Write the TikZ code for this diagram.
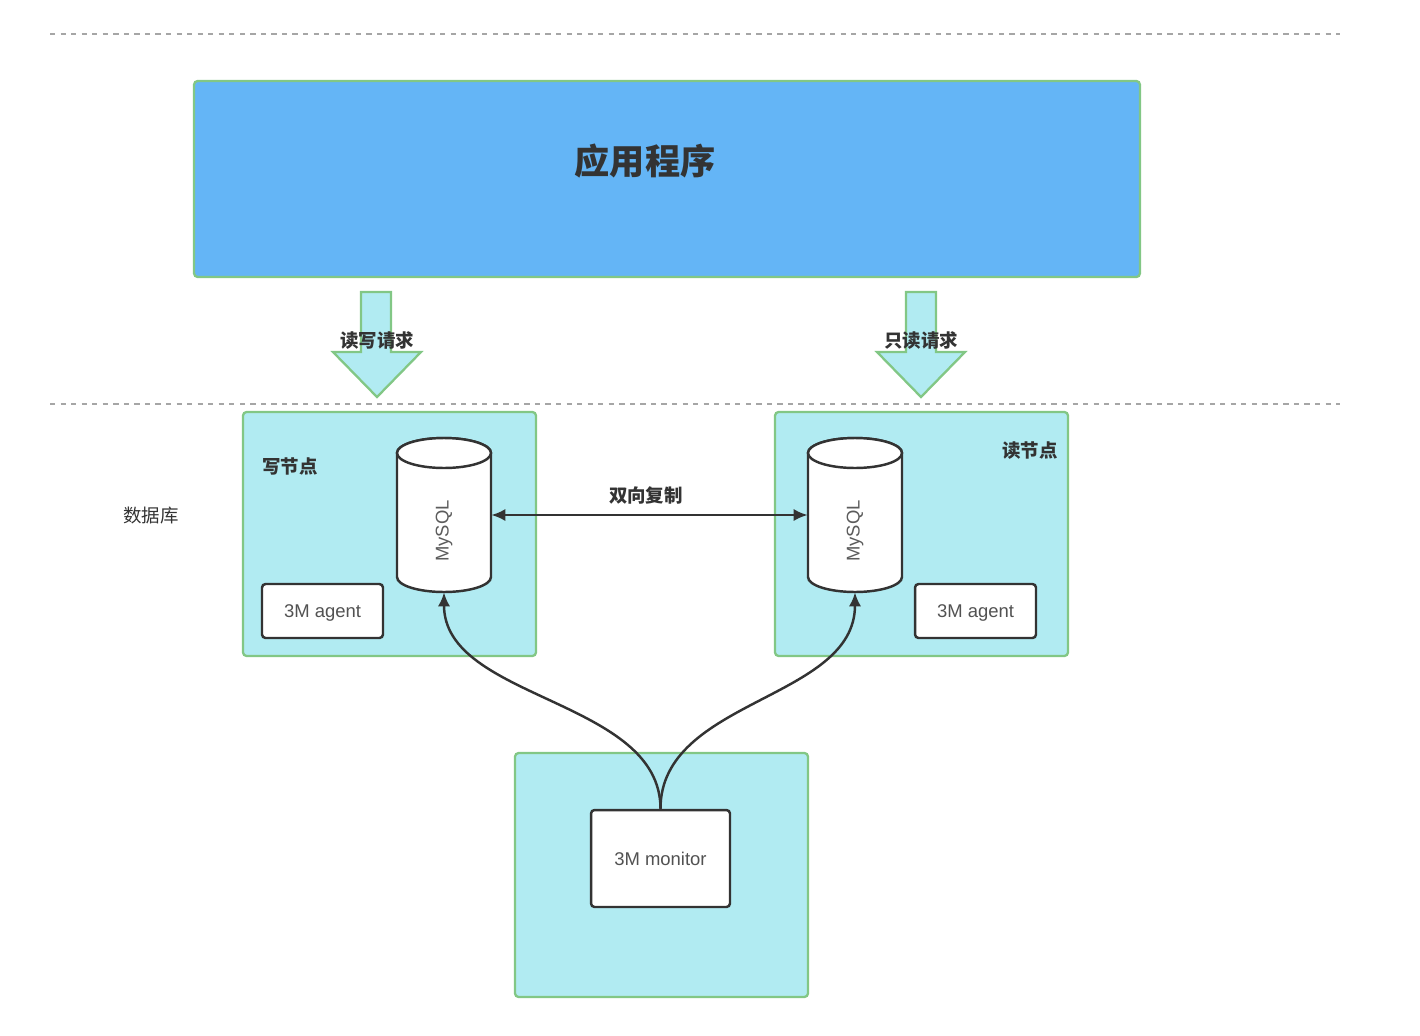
\documentclass[tikz,border=0pt]{standalone}
\usepackage{fontspec}
\setmainfont{Liberation Sans}
\newfontfamily\cjk{Noto Sans CJK SC}
\usetikzlibrary{arrows.meta}
\definecolor{appblue}{HTML}{64B5F6}
\definecolor{nodecyan}{HTML}{B1EBF2}
\definecolor{edgegreen}{HTML}{82C785}
\definecolor{ink}{HTML}{333333}
\begin{document}
\begin{tikzpicture}[x=0.02cm, y=-0.02cm,
		group/.style={draw=edgegreen, line width=1.3pt, fill=nodecyan, rounded corners=2pt, minimum width=5.86cm, minimum height=4.88cm},
		box/.style={draw=ink, line width=1.4pt, fill=white, rounded corners=2pt, font=\fontsize{10.5}{12}\selectfont, text=ink!85, text depth=0pt},
		dbline/.style={draw=ink, line width=1.4pt, fill=white},
		dbtext/.style={rotate=90, font=\fontsize{10.5}{12}\selectfont, text=ink!80},
		conn/.style={draw=ink, line width=1.4pt, -{Latex[length=8pt,width=7pt]}},
		lbl/.style={font=\cjk\bfseries\fontsize{10.5}{12}\selectfont, text=ink},
		sepline/.style={draw=gray!70, dashed, line width=0.6pt},
		bigarrow/.style={draw=edgegreen, line width=1.3pt, fill=nodecyan}]
		\useasboundingbox (0,0) rectangle (1420,1035);
		% separators
		\draw[sepline] (50,34) -- (1340,34);
		\draw[sepline] (50,404) -- (1340,404);
		% application
		\node[draw=edgegreen, line width=1.3pt, fill=appblue, rounded corners=2pt, minimum width=18.92cm, minimum height=3.92cm] (app) at (667,179) {};
		\node[font=\cjk\bfseries\fontsize{20}{24}\selectfont, text=ink] (apptext) at (645,161) {应用程序};
		% request arrows
		\draw[bigarrow] (361,292) -- (391,292) -- (391,352) -- (421,352) -- (377,397) -- (333,352) -- (361,352) -- cycle;
		\node[lbl] (rwreq) at (377,340) {读写请求};
		\draw[bigarrow] (906,292) -- (936,292) -- (936,352) -- (965,352) -- (921,397) -- (877,352) -- (906,352) -- cycle;
		\node[lbl] (roreq) at (921,340) {只读请求};
		% database nodes
		\node[font=\cjk\fontsize{10.5}{12}\selectfont, text=ink] (dblabel) at (151,516) {数据库};
		\node[group] (writer) at (389.5,534) {};
		\node[group] (reader) at (921.5,534) {};
		\node[lbl] (wlabel) at (290,466) {写节点};
		\node[lbl] (rlabel) at (1030,451) {读节点};
		\foreach \cx/\nm in {444/A, 855/B} {
			\draw[dbline] (\cx-47,453) -- (\cx-47,577) arc[start angle=180, end angle=360, x radius=0.94cm, y radius=0.3cm] -- (\cx+47,453) arc[start angle=0, end angle=180, x radius=0.94cm, y radius=0.3cm] -- cycle;
			\draw[dbline] (\cx,453) ellipse[x radius=0.94cm, y radius=0.3cm];
			\node[minimum width=1.88cm, minimum height=3.08cm, inner sep=0pt] (db\nm) at (\cx,515) {};
			\node[dbtext] (sql\nm) at (\cx,531) {MySQL};
		}
		\node[box, minimum width=2.42cm, minimum height=1.08cm] (agentA) at (322.5,611) {3M agent};
		\node[box, minimum width=2.42cm, minimum height=1.08cm] (agentB) at (975.5,611) {3M agent};
		\draw[conn, {Latex[length=8pt,width=7pt]}-{Latex[length=8pt,width=7pt]}] (dbA.east) -- (dbB.west) node[lbl, midway, above=2pt, xshift=-2pt] (repl) {双向复制};
		% monitor
		\node[group] (monbox) at (661.5,875) {};
		\node[box, minimum width=2.78cm, minimum height=1.94cm] (monitor) at (660.5,858.5) {3M monitor};
		\draw[conn] (monitor.north) .. controls +(0,-110) and +(0,108) .. (dbA.south);
		\draw[conn] (monitor.north) .. controls +(0,-110) and +(0,108) .. (dbB.south);
	\end{tikzpicture}
\end{document}
